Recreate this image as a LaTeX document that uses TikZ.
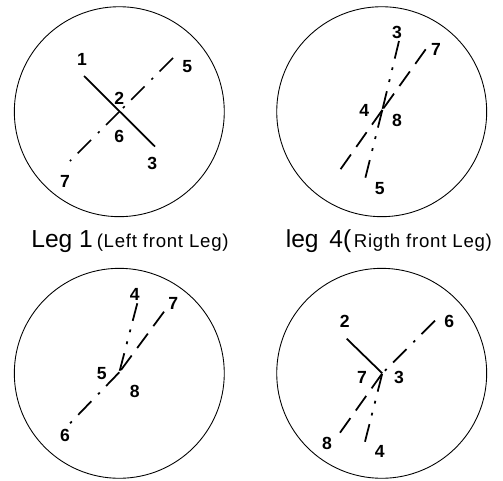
\documentclass[tikz,border=0pt]{standalone}
\usepackage{fontspec}
\setmainfont{Liberation Sans}
\begin{document}
\begin{tikzpicture}[
  x=0.02cm,y=-0.02cm,
  legcircle/.style={draw,circle,minimum size=4.2cm,inner sep=0pt,line width=0.5pt},
  pinlabel/.style={inner sep=0pt,font=\fontsize{10}{10}\selectfont\bfseries},
  captionlabel/.style={inner sep=0pt,anchor=base west},
  solidleg/.style={line width=1pt},
  dashleg/.style={line width=1pt,dash pattern=on 10.2pt off 5.3pt},
  dotleg/.style={line width=1pt,dash pattern=on 10.8pt off 5.2pt on 1.4pt off 5.5pt},
  twodotleg/.style={line width=1pt,dash pattern=on 10.3pt off 5.1pt on 1.6pt off 5.4pt on 1.6pt off 5.4pt}
]
  \useasboundingbox (0,0) rectangle (503,480);

  \node[legcircle] (C1) at (119.3,111.7) {};
  \node[legcircle] (C2) at (381.7,111.7) {};
  \node[legcircle] (C3) at (119.3,373.3) {};
  \node[legcircle] (C4) at (381.7,373.3) {};

  % left front leg
  \coordinate (m1) at (119.5,111.5);
  \coordinate (a1) at (84,76);
  \coordinate (a3) at (155,146.5);
  \coordinate (a5) at (173,58);
  \coordinate (a7) at (70,161);
  \draw[solidleg] (a1) -- (a3);
  \draw[dotleg] (a5) -- (m1);
  \draw[dotleg] (m1) -- (a7);
  \node[pinlabel] (p1) at (82,59) {1};
  \node[pinlabel] (p5) at (187.3,66.7) {5};
  \node[pinlabel] (p2) at (119.3,98.3) {2};
  \node[pinlabel] (p6) at (119.3,136) {6};
  \node[pinlabel] (p3) at (152.3,163.3) {3};
  \node[pinlabel] (p7) at (65,181) {7};

  % right front leg
  \coordinate (m2) at (382.3,110);
  \coordinate (b3) at (399,41);
  \coordinate (b5) at (365,179.3);
  \coordinate (b7) at (425.7,49.3);
  \coordinate (b8) at (340,170);
  \draw[twodotleg] (b3) -- (m2);
  \draw[twodotleg] (m2) -- (b5);
  \draw[dashleg] (b7) -- (m2);
  \draw[dashleg] (m2) -- (b8);
  \node[pinlabel] (q3) at (397,32.7) {3};
  \node[pinlabel] (q7) at (436,49) {7};
  \node[pinlabel] (q4) at (364.3,110.7) {4};
  \node[pinlabel] (q8) at (397,120) {8};
  \node[pinlabel] (q5) at (379.7,189) {5};

  \node[captionlabel] (L1) at (31,247.5) {\fontsize{14}{16}\selectfont Leg 1\hspace{2.2pt}\fontsize{10.6}{12}\selectfont\addfontfeature{LetterSpace=4}(Left front Leg)};
  \node[captionlabel] (L4) at (285.5,247.5) {\fontsize{14}{16}\selectfont leg\hspace{2.2pt} 4(\hspace{1.5pt}\fontsize{10.6}{12}\selectfont\addfontfeature{LetterSpace=4}Rigth front Leg)};

  % lower left
  \coordinate (m3) at (119.3,372.3);
  \coordinate (c4) at (137.3,303.3);
  \coordinate (c7) at (164,311.7);
  \coordinate (c6) at (70,423.3);
  \draw[twodotleg] (c4) -- (m3);
  \draw[dashleg] (c7) -- (m3);
  \draw[dotleg] (m3) -- (c6);
  \node[pinlabel] (r4) at (134.7,294) {4};
  \node[pinlabel] (r7) at (173.3,303.3) {7};
  \node[pinlabel] (r5) at (101.7,373.3) {5};
  \node[pinlabel] (r8) at (134.7,391) {8};
  \node[pinlabel] (r6) at (65,435.7) {6};

  % lower right
  \coordinate (m4) at (382.3,373.3);
  \coordinate (d2) at (346.7,338.7);
  \coordinate (d6) at (435,320.7);
  \coordinate (d8) at (340,432.7);
  \coordinate (d4) at (365,441.7);
  \draw[solidleg] (d2) -- (m4);
  \draw[dotleg] (d6) -- (m4);
  \draw[dashleg] (d8) -- (m4);
  \draw[twodotleg] (d4) -- (m4);
  \node[pinlabel] (s2) at (344.7,321) {2};
  \node[pinlabel] (s6) at (449.3,321) {6};
  \node[pinlabel] (s7) at (362,377.3) {7};
  \node[pinlabel] (s3) at (399,377.3) {3};
  \node[pinlabel] (s8) at (327,443.3) {8};
  \node[pinlabel] (s4) at (379.7,451) {4};
\end{tikzpicture}
\end{document}
